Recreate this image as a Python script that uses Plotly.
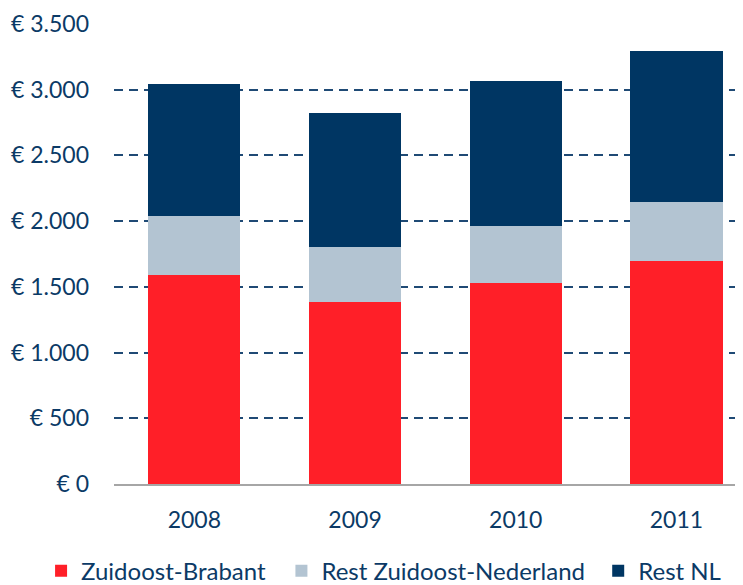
import plotly.graph_objects as go

years = ["2008", "2009", "2010", "2011"]
zuidoost_brabant = [1592, 1386, 1532, 1697]
rest_zuidoost_nl = [447, 418, 432, 449]
rest_nl = [1006, 1020, 1102, 1149]

tick_vals = [0, 500, 1000, 1500, 2000, 2500, 3000, 3500]
tick_text = ["€ 0", "€ 500", "€ 1.000", "€ 1.500", "€ 2.000", "€ 2.500", "€ 3.000", "€ 3.500"]

series = [
    ("Zuidoost-Brabant", zuidoost_brabant, "#FF1F28", "legend"),
    ("Rest Zuidoost-Nederland", rest_zuidoost_nl, "#B3C4D2", "legend2"),
    ("Rest NL", rest_nl, "#003663", "legend3"),
]

fig = go.Figure()
for name, vals, col, leg in series:
    fig.add_trace(go.Bar(x=years, y=vals, name=name, marker_color=col,
                         marker_line_width=0, width=0.573, legend=leg,
                         showlegend=True))

font = dict(family="Lato, Open Sans, sans-serif", size=23, color="#0B3A66")


def legend_at(x):
    return dict(orientation="h", xref="container", yref="container",
                x=x, xanchor="left", y=0.024, yanchor="middle",
                font=dict(size=24, color="#0B3A66"), itemwidth=30,
                bgcolor="rgba(0,0,0,0)", visible=True)


fig.update_layout(
    barmode="stack",
    showlegend=True,
    width=735, height=577,
    margin=dict(l=106, r=0, t=16, b=101, autoexpand=False),
    plot_bgcolor="white", paper_bgcolor="white",
    font=font,
    legend=legend_at(0.045),
    legend2=legend_at(0.372),
    legend3=legend_at(0.803),
    xaxis=dict(range=[-0.5, 3.414], showline=True, linecolor="#A6A6A6", linewidth=2,
               ticks="", ticklabelstandoff=14, automargin=False,
               showgrid=False, fixedrange=True),
    yaxis=dict(range=[0, 3500], tickvals=tick_vals, ticktext=tick_text,
               showgrid=True, gridcolor="#1F4A75", gridwidth=1.6, griddash="9px,6px",
               zeroline=False, showline=False, automargin=False,
               ticks="", ticklabelstandoff=24),
)

fig.write_html("out.html")
